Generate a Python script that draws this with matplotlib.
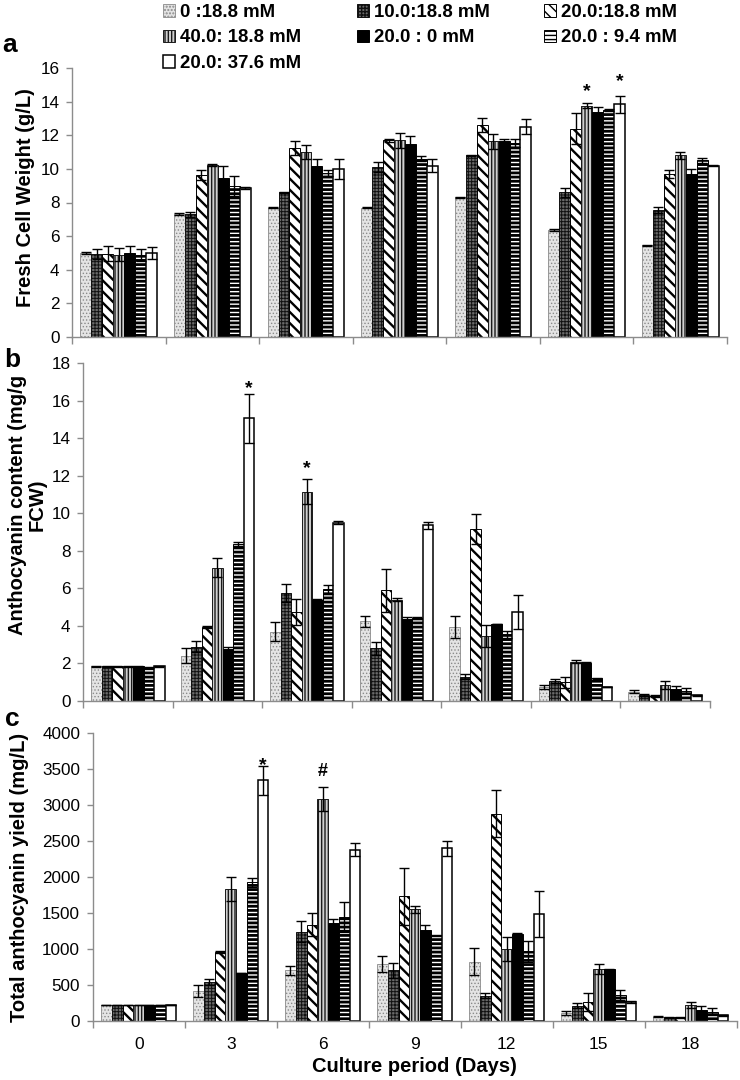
import matplotlib
matplotlib.use("Agg")
import matplotlib.pyplot as plt
import numpy as np

plt.rcParams['font.family'] = ['Liberation Sans', 'DejaVu Sans']
plt.rcParams['hatch.linewidth'] = 1.2

# ---------------- data ----------------
days = ['0', '3', '6', '9', '12', '15', '18']
treatments = ['0 :18.8 mM', '10.0:18.8 mM', '20.0:18.8 mM', '40.0: 18.8 mM',
              '20.0 : 0 mM', '20.0 : 9.4 mM', '20.0: 37.6 mM']

# (a) Fresh cell weight (g/L), one row per treatment, one column per day
fcw_mean = [
    [5.0, 7.3, 7.7, 7.7, 8.3, 6.35, 5.45],
    [4.95, 7.3, 8.6, 10.1, 10.8, 8.6, 7.55],
    [4.95, 9.65, 11.25, 11.7, 12.6, 12.4, 9.7],
    [4.9, 10.25, 11.0, 11.7, 11.65, 13.75, 10.8],
    [5.0, 9.45, 10.2, 11.45, 11.65, 13.4, 9.7],
    [4.9, 9.0, 9.75, 10.6, 11.55, 13.5, 10.5],
    [5.0, 8.85, 10.0, 10.2, 12.5, 13.85, 10.2],
]
fcw_err = [
    [0.05, 0.05, 0.05, 0.05, 0.05, 0.05, 0.05],
    [0.3, 0.15, 0.05, 0.3, 0.05, 0.25, 0.2],
    [0.45, 0.3, 0.4, 0.1, 0.4, 0.9, 0.25],
    [0.4, 0.05, 0.4, 0.45, 0.45, 0.15, 0.2],
    [0.4, 0.7, 0.4, 0.5, 0.15, 0.3, 0.3],
    [0.35, 0.6, 0.2, 0.15, 0.25, 0.05, 0.15],
    [0.35, 0.05, 0.6, 0.4, 0.45, 0.5, 0.05],
]

# (b) Anthocyanin content (mg/g FCW)
antho_mean = [
    [1.85, 2.4, 3.7, 4.25, 3.95, 0.75, 0.5],
    [1.85, 2.9, 5.75, 2.8, 1.3, 1.05, 0.3],
    [1.85, 3.95, 4.75, 5.9, 9.15, 1.0, 0.25],
    [1.85, 7.1, 11.15, 5.4, 3.45, 2.1, 0.85],
    [1.85, 2.75, 5.4, 4.35, 4.1, 2.05, 0.65],
    [1.8, 8.35, 5.95, 4.4, 3.55, 1.2, 0.55],
    [1.85, 15.05, 9.5, 9.35, 4.75, 0.75, 0.3],
]
antho_err = [
    [0.02, 0.4, 0.5, 0.3, 0.6, 0.1, 0.1],
    [0.02, 0.3, 0.5, 0.35, 0.15, 0.1, 0.05],
    [0.02, 0.05, 0.7, 1.15, 0.8, 0.3, 0.05],
    [0.02, 0.5, 0.65, 0.1, 0.6, 0.1, 0.2],
    [0.02, 0.1, 0.02, 0.1, 0.02, 0.02, 0.15],
    [0.02, 0.1, 0.25, 0.05, 0.2, 0.05, 0.15],
    [0.02, 1.3, 0.1, 0.2, 0.9, 0.02, 0.02],
]

# (c) Total anthocyanin yield (mg/L)
yield_mean = [
    [220, 410, 700, 790, 820, 110, 55],
    [220, 540, 1240, 700, 345, 210, 45],
    [220, 955, 1335, 1730, 2880, 260, 45],
    [220, 1830, 3080, 1550, 1000, 720, 220],
    [220, 665, 1360, 1265, 1205, 715, 150],
    [220, 1925, 1445, 1185, 965, 360, 125],
    [220, 3340, 2380, 2395, 1485, 260, 75],
]
yield_err = [
    [5, 80, 60, 115, 185, 30, 10],
    [5, 45, 140, 105, 35, 40, 10],
    [5, 20, 160, 395, 325, 120, 10],
    [5, 165, 170, 50, 170, 75, 40],
    [5, 5, 55, 60, 10, 5, 55],
    [5, 60, 210, 5, 150, 70, 45],
    [5, 205, 90, 100, 325, 10, 10],
]

# significance marks: (panel, treatment index, day index, symbol, y position of mark)
marks = [
    ('a', 3, 5, '*', 15.0), ('a', 6, 5, '*', 15.6),
    ('b', 6, 1, '*', 17.0), ('b', 3, 2, '*', 12.75),
    ('c', 6, 1, '*', 3650), ('c', 3, 2, '#', 3490),
]

# legend layout: treatments in each legend column (rows filled left to right)
legend_columns = [[0, 3, 6], [1, 4], [2, 5]]

# ---------------- styles ----------------
styles = [
    dict(facecolor='#e4e4e4', edgecolor='#8a8a8a', hatch='.....', hlw=0.6, lw=0.6),
    dict(facecolor='#6a6a6a', edgecolor='#111111', hatch='+++++', hlw=0.7, lw=0.7),
    dict(facecolor='white', edgecolor='black', hatch='\\\\\\', hlw=1.7, lw=0.7),
    dict(facecolor='#d0d0d0', edgecolor='#1a1a1a', hatch='|||||', hlw=1.0, lw=0.7),
    dict(facecolor='black', edgecolor='black', hatch=None, hlw=1.0, lw=0.7),
    dict(facecolor='white', edgecolor='black', hatch='----', hlw=2.0, lw=0.7),
    dict(facecolor='white', edgecolor='black', hatch=None, hlw=1.0, lw=1.1),
]

W, H = 740, 1080
fig = plt.figure(figsize=(W / 100, H / 100), dpi=100)


def px_axes(l, t, r, b):
    return fig.add_axes([l / W, 1 - b / H, (r - l) / W, (b - t) / H])


ax_a = px_axes(72, 68, 727, 337)
ax_b = px_axes(83, 363, 710, 701)
ax_c = px_axes(92.7, 733, 736.7, 1020.7)

x = np.arange(len(days))
n = len(treatments)
group = 0.82
bw = group / n

panels = {
    'a': (ax_a, fcw_mean, fcw_err, 16, 2),
    'b': (ax_b, antho_mean, antho_err, 18, 2),
    'c': (ax_c, yield_mean, yield_err, 4000, 500),
}

legend_handles = []
for key, (ax, means, errs, ymax, step) in panels.items():
    for i in range(n):
        st = styles[i]
        pos = x - group / 2 + bw * (i + 0.5)
        plt.rcParams['hatch.linewidth'] = st['hlw']
        bars = ax.bar(pos, means[i], width=bw, facecolor=st['facecolor'],
                      edgecolor=st['edgecolor'], hatch=st['hatch'],
                      linewidth=st['lw'], zorder=2, label=treatments[i])
        for p in bars:
            if hasattr(p, 'set_hatch_linewidth'):
                p.set_hatch_linewidth(st['hlw'])
        ax.errorbar(pos, means[i], yerr=errs[i], fmt='none', ecolor='black',
                    elinewidth=1.0, capsize=3.5, capthick=1.0, zorder=3)
        if key == 'a':
            legend_handles.append(bars)
    ax.set_xlim(-0.5, len(days) - 0.5)
    ax.set_ylim(0, ymax)
    ax.set_yticks(np.arange(0, ymax + step / 2, step))
    for s in ['top', 'right']:
        ax.spines[s].set_visible(False)
    for s in ['left', 'bottom']:
        ax.spines[s].set_color('#8c8c8c')
        ax.spines[s].set_linewidth(1.0)
    ax.tick_params(axis='y', colors='#8c8c8c', labelcolor='black',
                   length=4, width=1, pad=5, labelsize=12.3)
    ax.set_xticks(x)
    ax.set_xticks(np.arange(-0.5, len(days), 1.0), minor=True)
    ax.tick_params(axis='x', which='major', length=0, pad=12, labelsize=12.5)
    ax.tick_params(axis='x', which='minor', length=5, width=1,
                   colors='#8c8c8c', direction='out')
    if key == 'c':
        ax.set_xticklabels(days)
    else:
        ax.set_xticklabels([])

for key, ti, di, sym, ypos in marks:
    ax = panels[key][0]
    xpos = x[di] - group / 2 + bw * (ti + 0.5)
    fs = 14 if sym == '*' else 13
    shift = -0.59 * fs if sym == '*' else -0.36 * fs
    ax.annotate(sym, xy=(xpos, ypos), xytext=(0, shift), textcoords='offset points',
                ha='center', va='baseline', fontsize=fs, fontweight='bold',
                zorder=4)

# ---------------- legend: three columns placed at fixed pixel x ----------------
leg_fs = 13.4
leg_fs_px = leg_fs * 100 / 72
col_x = [163, 357, 544]
row_centers = [12.5, 38, 63.5]


def build_legends(labelspacing, top_px):
    legs = []
    for cx, idxs in zip(col_x, legend_columns):
        leg = fig.legend([legend_handles[k] for k in idxs],
                         [treatments[k] for k in idxs],
                         ncol=1, loc='upper left',
                         bbox_to_anchor=(cx / W, 1 - top_px / H),
                         frameon=False, borderpad=0, borderaxespad=0,
                         handlelength=0.65, handleheight=0.65,
                         handletextpad=0.25, labelspacing=labelspacing,
                         prop={'weight': 'bold', 'size': leg_fs})
        legs.append(leg)
    return legs


ls, top = 0.3, 1.0
legs = build_legends(ls, top)
fig.canvas.draw()
renderer = fig.canvas.get_renderer()
centers = []
for t in legs[0].get_texts():
    bb = t.get_window_extent(renderer)
    centers.append(H - (bb.y0 + bb.y1) / 2)
pitch = (centers[-1] - centers[0]) / (len(centers) - 1)
ls_new = ls + ((row_centers[-1] - row_centers[0]) / 2 - pitch) / leg_fs_px
for lg in legs:
    lg.remove()
legs = build_legends(ls_new, top)
fig.canvas.draw()
bb = legs[0].get_texts()[0].get_window_extent(renderer)
c0 = H - (bb.y0 + bb.y1) / 2
top_new = top + (row_centers[0] - c0)
for lg in legs:
    lg.remove()
legs = build_legends(ls_new, top_new)

# axis titles
fig.text(26 / W, 1 - 198 / H, 'Fresh Cell Weight (g/L)', rotation=90,
         ha='center', va='center', fontsize=14.5, fontweight='bold')
fig.text(27 / W, 1 - 505 / H, 'Anthocyanin content (mg/g\nFCW)', rotation=90,
         ha='center', va='center', fontsize=14.5, fontweight='bold',
         multialignment='center', linespacing=1.05)
fig.text(20 / W, 1 - 877 / H, 'Total anthocyanin yield (mg/L)', rotation=90,
         ha='center', va='center', fontsize=14.5, fontweight='bold')
fig.text(414.7 / W, 1 - 1066 / H, 'Culture period (Days)', ha='center',
         va='center', fontsize=14.5, fontweight='bold')

# panel letters
fig.text(10 / W, 1 - 45 / H, 'a', ha='center', va='center', fontsize=19, fontweight='bold')
fig.text(12 / W, 1 - 360 / H, 'b', ha='center', va='center', fontsize=19, fontweight='bold')
fig.text(12 / W, 1 - 719 / H, 'c', ha='center', va='center', fontsize=19, fontweight='bold')

fig.savefig('out.png', dpi=100)
